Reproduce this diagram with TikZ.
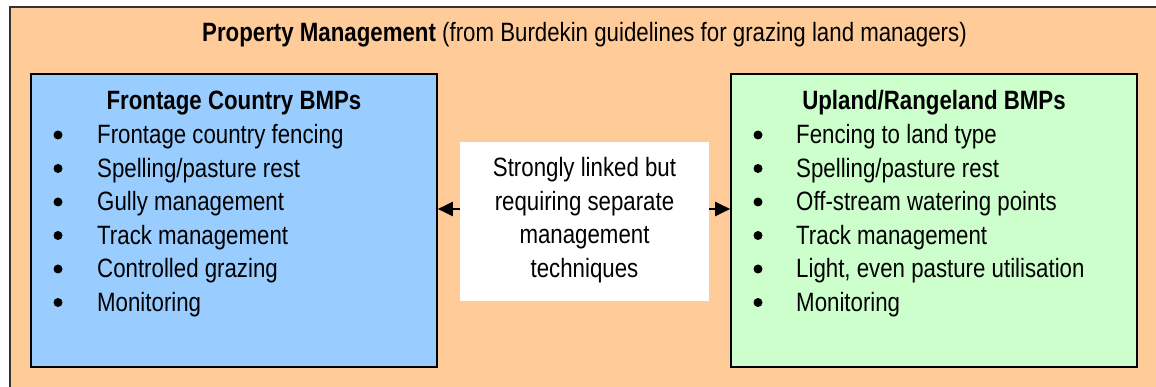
\documentclass[tikz,border=0pt]{standalone}
\usepackage{fontspec}
\setmainfont[FakeStretch=0.84]{Liberation Sans}
\usetikzlibrary{arrows.meta}
\definecolor{peach}{HTML}{FFCC99}
\definecolor{skyblue}{HTML}{99CCFF}
\definecolor{mint}{HTML}{CCFFCC}
\tikzset{
  panel/.style={draw=black, line width=1.6pt, inner sep=0pt, minimum width=406pt, minimum height=293pt},
  linkbox/.style={fill=white, inner sep=0pt, minimum width=249pt, minimum height=159pt},
  head/.style={anchor=base, font=\fontsize{26.5}{30}\selectfont\bfseries},
  item/.style={anchor=base west, font=\fontsize{26.5}{30}\selectfont, inner sep=0pt},
  dot/.style={circle, fill=black, inner sep=0pt, minimum size=9pt},
  linktext/.style={anchor=base, font=\fontsize{26.5}{30}\selectfont, inner sep=0pt},
  arr/.style={line width=2pt, -{Triangle[length=15pt,width=14pt]}}
}
\begin{document}
\begin{tikzpicture}[x=1pt,y=-1pt]
  \useasboundingbox (0,0) rectangle (1156,387);
  \begin{scope}
    \clip (0,0) rectangle (1156,387);
    % outer frame, running past the right and bottom edges
    \node[draw=black!80, line width=1.6pt, fill=peach, inner sep=0pt,
          minimum width=1180pt, minimum height=420pt, anchor=north west] (outer) at (9,6) {};
  \end{scope}
  \node[anchor=base, font=\fontsize{26.5}{30}\selectfont, inner sep=0pt] (title) at (584.5,42)
    {\textbf{Property Management} (from Burdekin guidelines for grazing land managers)};

  % the two management panels
  \node[panel, fill=skyblue] (fc) at (234,220.5) {};
  \node[panel, fill=mint] (up) at (934,220.5) {};
  \node[linkbox] (link) at (584.5,221.5) {};

  % frontage country list
  \node[head] (fch) at (234,110) {Frontage Country BMPs};
  \foreach \t [count=\i] in {Frontage country fencing, Spelling/pasture rest, Gully management,
      Track management, Controlled grazing, Monitoring} {
    \node[dot] (fcb\i) at (58,{135+33.5*(\i-1)}) {};
    \node[item] (fci\i) at (97,{144+33.5*(\i-1)}) {\t};
  }

  % upland/rangeland list
  \node[head] (uph) at (934,110) {Upland/Rangeland BMPs};
  \foreach \t [count=\i] in {Fencing to land type, Spelling/pasture rest, Off-stream watering points,
      Track management, {Light, even pasture utilisation}, Monitoring} {
    \node[dot] (upb\i) at (758,{135+33.5*(\i-1)}) {};
    \node[item] (upi\i) at (796,{144+33.5*(\i-1)}) {\t};
  }

  % linking text
  \node[linktext] (l1) at (584.5,177) {Strongly linked but};
  \node[linktext] (l2) at (584.5,211) {requiring separate};
  \node[linktext] (l3) at (584.5,244) {management};
  \node[linktext] (l4) at (584.5,277.5) {techniques};

  % connectors
  \coordinate (ay) at (0,209);
  \draw[arr] (link.west |- ay) -- (fc.east |- ay);
  \draw[arr] (link.east |- ay) -- (up.west |- ay);
\end{tikzpicture}
\end{document}
